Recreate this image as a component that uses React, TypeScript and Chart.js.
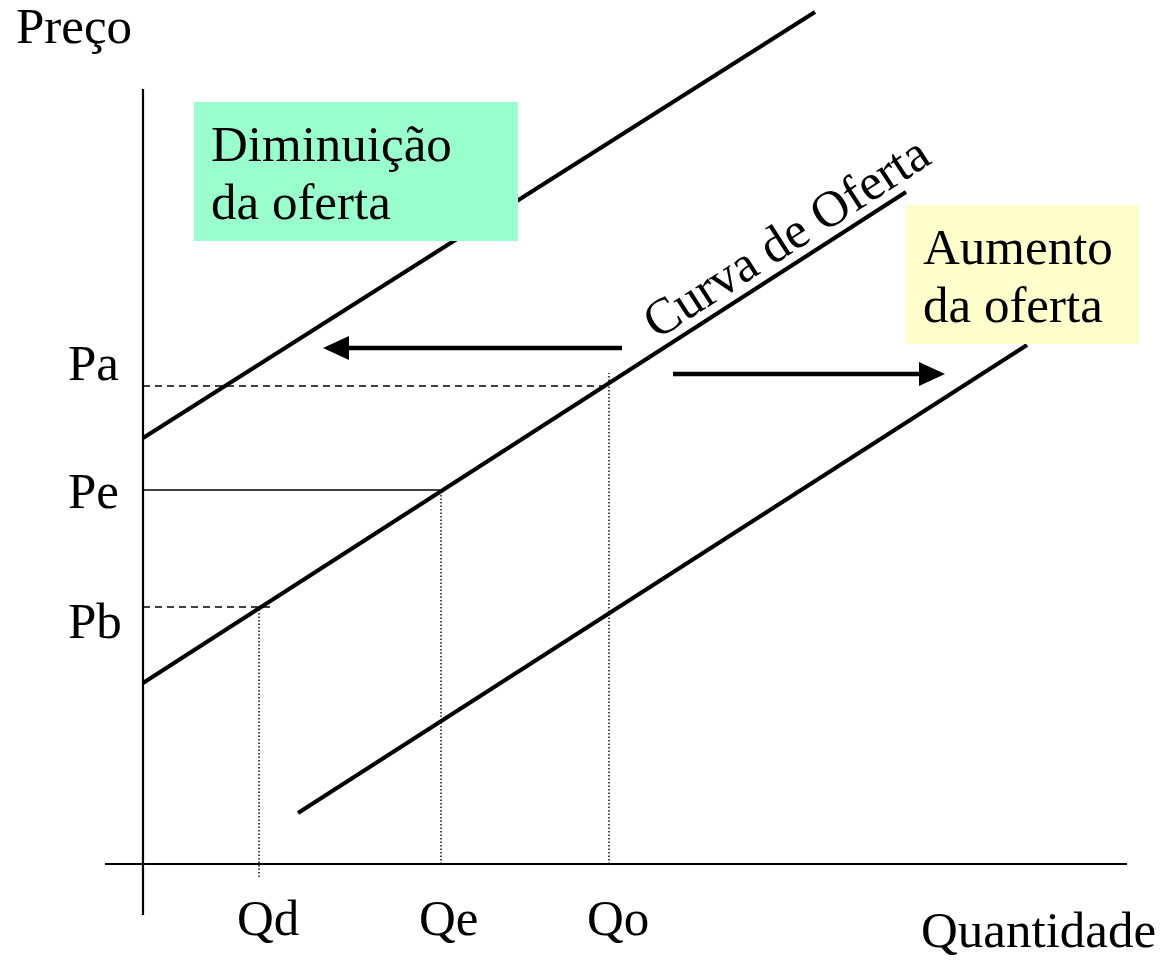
import React, { useEffect, useRef } from "react";
import { Chart, registerables } from "chart.js";

Chart.register(...registerables);

const W = 1163;
const H = 967;
const FONT = '51px "Liberation Serif", "Times New Roman", serif';

// Price levels (vertical axis) and quantities (horizontal axis), in data units
const priceLabels = ["Pa", "Pe", "Pb"];
const priceLevels = [47.8, 37.4, 25.7];
const quantityLabels = ["Qd", "Qe", "Qo"];
const quantityLevels = [11.6, 29.8, 46.6];

// Supply curves (two end points each)
const decreaseCurve = [{ x: 0, y: 42.6 }, { x: 67.2, y: 85.2 }];
const supplyCurve = [{ x: 0, y: 18.1 }, { x: 76.3, y: 67.2 }];
const increaseCurve = [{ x: 15.5, y: 5.1 }, { x: 88.4, y: 51.9 }];

// Axis lines
const xAxisLine = [{ x: -3.8, y: 0 }, { x: 98.4, y: 0 }];
const yAxisLine = [{ x: 0, y: -5.1 }, { x: 0, y: 77.5 }];

// Horizontal guides at price levels
const hGuideEnds = [46.0, 29.8, 12.9];
const hGuideStyles = ["dash", "solid", "dash"];
// Vertical guides at quantities
const vGuideStart = [-1.3, 0, 0];
const vGuideEnd = [25.4, 37.4, 49.1];

// Arrows: from x, to x, at y
const arrowFrom = [47.9, 53.0];
const arrowTo = [18.0, 80.2];
const arrowY = [51.6, 49.0];

// Boxes
const boxX0 = [5.1, 76.3];
const boxX1 = [37.5, 99.6];
const boxTop = [76.2, 65.9];
const boxBottom = [62.3, 52.0];
const boxColors = ["#99FFCC", "#FFFFCC"];
const boxLines = [["Diminuição", "da oferta"], ["Aumento", "da oferta"]];
const boxTextX = [6.8, 78.0];
const boxTextY = [[70.3, 64.5], [60.0, 54.2]];

// Axis titles and tick label positions
const axisTitles = ["Preço", "Quantidade"];
const axisTitleX = [-12.7, 77.8];
const axisTitleY = [82.1, -8.25];
const priceLabelX = -7.5;
const priceLabelBaseline = [48.4, 35.6, 22.6];
const quantityLabelOffset = -2.2;
const quantityLabelBaseline = -7.1;

const curveLabel = "Curva de Oferta";
const curveLabelPos = { x: 51.4, y: 52.4 };

const line = (data: { x: number; y: number }[], width: number, dash: number[] = []) => ({
  data,
  showLine: true,
  borderColor: "#000",
  backgroundColor: "#000",
  borderWidth: width,
  borderDash: dash,
  pointRadius: 0,
  pointHoverRadius: 0,
  fill: false,
  tension: 0,
  clip: false as any,
});

const annotations = {
  id: "annotations",
  afterDatasetsDraw(chart: any) {
    const { ctx } = chart;
    const sx = chart.scales.x;
    const sy = chart.scales.y;
    const px = (v: number) => sx.getPixelForValue(v);
    const py = (v: number) => sy.getPixelForValue(v);
    ctx.save();

    // arrows
    ctx.fillStyle = "#000";
    ctx.strokeStyle = "#000";
    for (let i = 0; i < arrowFrom.length; i++) {
      const x0 = px(arrowFrom[i]);
      const x1 = px(arrowTo[i]);
      const yy = py(arrowY[i]);
      const dir = Math.sign(x1 - x0);
      const headLen = 26;
      const headHalf = 12;
      ctx.lineWidth = 4.5;
      ctx.beginPath();
      ctx.moveTo(x0, yy);
      ctx.lineTo(x1 - dir * headLen * 0.8, yy);
      ctx.stroke();
      ctx.beginPath();
      ctx.moveTo(x1, yy);
      ctx.lineTo(x1 - dir * headLen, yy - headHalf);
      ctx.lineTo(x1 - dir * headLen, yy + headHalf);
      ctx.closePath();
      ctx.fill();
    }

    // boxes
    ctx.font = FONT;
    ctx.textBaseline = "alphabetic";
    ctx.textAlign = "left";
    for (let i = 0; i < boxX0.length; i++) {
      const x0 = px(boxX0[i]);
      const x1 = px(boxX1[i]);
      const y0 = py(boxTop[i]);
      const y1 = py(boxBottom[i]);
      ctx.fillStyle = boxColors[i];
      ctx.fillRect(x0, y0, x1 - x0, y1 - y0);
      ctx.fillStyle = "#000";
      boxLines[i].forEach((t, j) => ctx.fillText(t, px(boxTextX[i]), py(boxTextY[i][j])));
    }

    ctx.fillStyle = "#000";
    axisTitles.forEach((t, i) => ctx.fillText(t, px(axisTitleX[i]), py(axisTitleY[i])));
    priceLabels.forEach((t, i) => ctx.fillText(t, px(priceLabelX), py(priceLabelBaseline[i])));
    quantityLabels.forEach((t, i) =>
      ctx.fillText(t, px(quantityLevels[i] + quantityLabelOffset), py(quantityLabelBaseline))
    );

    // rotated curve label along the supply curve
    const ang = Math.atan2(
      py(supplyCurve[1].y) - py(supplyCurve[0].y),
      px(supplyCurve[1].x) - px(supplyCurve[0].x)
    );
    ctx.translate(px(curveLabelPos.x), py(curveLabelPos.y));
    ctx.rotate(ang);
    ctx.fillText(curveLabel, 0, 0);

    ctx.restore();
  },
};

export default function App() {
  const ref = useRef<HTMLCanvasElement | null>(null);
  useEffect(() => {
    if (!ref.current) return;
    const datasets: any[] = [line(xAxisLine, 2.2), line(yAxisLine, 2.2)];
    priceLevels.forEach((p, i) => {
      const isDash = hGuideStyles[i] === "dash";
      datasets.push(line([{ x: 0, y: p }, { x: hGuideEnds[i], y: p }], isDash ? 1.5 : 1.5, isDash ? [7, 5] : []));
    });
    quantityLevels.forEach((q, i) => {
      datasets.push(line([{ x: q, y: vGuideStart[i] }, { x: q, y: vGuideEnd[i] }], 1.4, [1.5, 2]));
    });
    datasets.push(line(decreaseCurve, 4));
    datasets.push(line(supplyCurve, 4));
    datasets.push(line(increaseCurve, 4));

    const chart = new Chart(ref.current, {
      type: "scatter",
      data: { datasets },
      options: {
        responsive: false,
        animation: false,
        devicePixelRatio: 1,
        layout: { padding: 0 },
        plugins: { legend: { display: false }, tooltip: { enabled: false } },
        events: [],
        scales: {
          x: { type: "linear", min: -14.3, max: 102.0, display: false },
          y: { type: "linear", min: -10.3, max: 86.4, display: false },
        },
      },
      plugins: [annotations],
    });
    return () => chart.destroy();
  }, []);
  return (
    <div style={{ position: "fixed", left: 0, top: 0, width: W, height: H, background: "#fff" }}>
      <canvas ref={ref} width={W} height={H} style={{ display: "block" }} />
    </div>
  );
}
